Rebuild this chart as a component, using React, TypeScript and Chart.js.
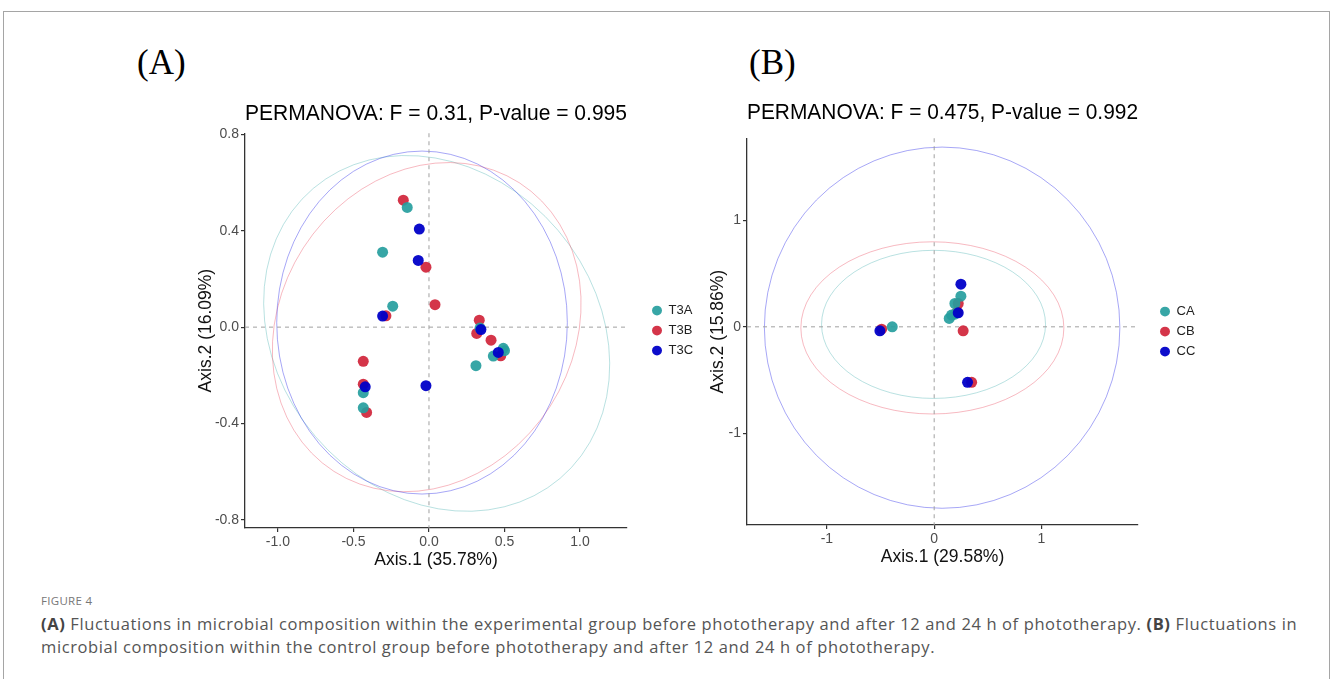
import React, { useEffect, useRef } from 'react';
import { Chart, registerables } from 'chart.js';

Chart.register(...registerables);

// ---------- Panel A data ----------
const T3A_X = [-0.144, -0.307, -0.24, 0.338, 0.492, 0.5, 0.426, 0.311, -0.435, -0.435];
const T3A_Y = [0.497, 0.311, 0.087, -0.004, -0.088, -0.098, -0.12, -0.16, -0.272, -0.335];
const T3B_X = [-0.17, -0.02, 0.04, -0.285, 0.333, 0.316, 0.411, 0.475, -0.435, -0.435, -0.413];
const T3B_Y = [0.527, 0.249, 0.093, 0.047, 0.029, -0.026, -0.054, -0.119, -0.142, -0.237, -0.354];
const T3C_X = [-0.064, -0.071, -0.307, 0.344, 0.459, -0.02, -0.422];
const T3C_Y = [0.407, 0.277, 0.046, -0.01, -0.105, -0.243, -0.248];

// ellipses: [centerX, centerY, axis1X, axis1Y, axis2X, axis2Y] in data units
const ELLIPSE_T3A = [0.051, -0.026, 0.817, -0.602, -0.803, -0.428];
const ELLIPSE_T3B = [-0.015, 0.0, 0.614, 0.599, 0.817, -0.329];
const ELLIPSE_T3C = [-0.046, 0.019, 0.962, 0.0, 0.0, 0.712];

const A_X_RANGE = [-1.218, 1.311];
const A_Y_RANGE = [-0.834, 0.805];
const A_X_STEP = 0.5;
const A_Y_STEP = 0.4;

// ---------- Panel B data ----------
const CA_X = [0.249, 0.193, 0.193, 0.162, 0.14, -0.391];
const CA_Y = [0.288, 0.219, 0.119, 0.11, 0.079, 0.0];
const CB_X = [0.224, 0.27, -0.49, 0.349, 0.215];
const CB_Y = [0.219, -0.037, -0.022, -0.521, 0.14];
const CC_X = [0.249, 0.224, -0.506, 0.311];
const CC_Y = [0.4, 0.131, -0.037, -0.521];

const ELLIPSE_CA = [-0.006, 0.023, 1.044, 0.0, 0.0, 0.695];
const ELLIPSE_CB = [-0.017, -0.01, 1.226, 0.0, 0.0, 0.808];
const ELLIPSE_CC = [0.074, -0.008, 1.657, 0.0, 0.0, 1.695];

const B_X_RANGE = [-1.745, 1.9];
const B_Y_RANGE = [-1.86, 1.77];
const B_X_STEP = 1;
const B_Y_STEP = 1;

// ---------- styles ----------
const TEAL = 'rgba(38,158,158,0.92)';
const RED = 'rgba(208,36,58,0.92)';
const BLUE = 'rgba(0,0,200,0.95)';
const TEAL_LINE = 'rgba(80,180,180,0.4)';
const RED_LINE = 'rgba(235,80,100,0.4)';
const BLUE_LINE = 'rgba(60,60,235,0.45)';
const SANS = '"Liberation Sans", Arial, sans-serif';

const refLinesPlugin = {
  id: 'refLines',
  beforeDatasetsDraw(chart: any) {
    const { ctx, chartArea: a, scales } = chart;
    const px = scales.x.getPixelForValue(0);
    const py = scales.y.getPixelForValue(0);
    ctx.save();
    ctx.strokeStyle = '#a0a0a0';
    ctx.lineWidth = 1;
    ctx.setLineDash([4, 4]);
    ctx.beginPath();
    ctx.moveTo(px, a.top);
    ctx.lineTo(px, a.bottom);
    ctx.moveTo(a.left, py);
    ctx.lineTo(a.right, py);
    ctx.stroke();
    ctx.restore();
  },
};

function makeEllipsePlugin(ellipses: { e: number[]; color: string }[]) {
  return {
    id: 'ellipses',
    beforeDatasetsDraw(chart: any) {
      const { ctx, scales } = chart;
      const X = (v: number) => scales.x.getPixelForValue(v);
      const Y = (v: number) => scales.y.getPixelForValue(v);
      ellipses.forEach(({ e, color }) => {
        const [cx, cy, ux, uy, vx, vy] = e;
        const x0 = X(cx), y0 = Y(cy);
        const a = X(cx + ux) - x0, b = Y(cy + uy) - y0;
        const c = X(cx + vx) - x0, d = Y(cy + vy) - y0;
        ctx.save();
        ctx.beginPath();
        ctx.transform(a, b, c, d, x0, y0);
        ctx.arc(0, 0, 1, 0, Math.PI * 2);
        ctx.restore();
        ctx.save();
        ctx.strokeStyle = color;
        ctx.lineWidth = 1;
        ctx.stroke();
        ctx.restore();
      });
    },
  };
}

type Group = { name: string; xs: number[]; ys: number[]; color: string; order: number };

type PanelCfg = {
  title: string;
  titlePad: { top: number; bottom: number };
  groups: Group[];
  ellipses: { e: number[]; color: string }[];
  xRange: number[];
  yRange: number[];
  xStep: number;
  yStep: number;
  xTitle: string;
  yTitle: string;
  yWidth: number;
  yTitlePad: number;
  gapRight: number;
  fmt: (v: number) => string;
};

function buildChart(canvas: HTMLCanvasElement, p: PanelCfg) {
  const axisCommon = {
    type: 'linear' as const,
    grid: { display: true, drawOnChartArea: false, drawTicks: true, tickLength: 4, color: '#333', lineWidth: 1.2 },
    border: { display: true, color: '#333', width: 1.3 },
  };
  return new Chart(canvas, {
    type: 'scatter',
    data: {
      datasets: p.groups.map((g) => ({
        label: g.name,
        data: g.xs.map((x, i) => ({ x, y: g.ys[i] })),
        backgroundColor: g.color,
        borderColor: g.color,
        borderWidth: 0,
        pointRadius: 5.5,
        pointHoverRadius: 5.5,
        order: g.order,
        xAxisID: 'x',
        yAxisID: 'y',
      })),
    },
    options: {
      animation: false,
      responsive: false,
      maintainAspectRatio: false,
      events: [],
      layout: { padding: 0 },
      plugins: {
        title: {
          display: true,
          text: p.title,
          fullSize: false,
          color: '#000',
          font: { family: SANS, size: 21.2, weight: 'normal' },
          padding: p.titlePad,
        },
        legend: {
          display: true,
          position: 'right',
          fullSize: false,
          maxWidth: 50,
          labels: {
            usePointStyle: true,
            pointStyle: 'circle',
            boxWidth: 10,
            boxHeight: 7,
            padding: 7,
            color: '#222',
            font: { family: SANS, size: 13 },
            sort: (a: any, b: any) => a.datasetIndex - b.datasetIndex,
          },
        },
        tooltip: { enabled: false },
      },
      scales: {
        x: {
          ...axisCommon,
          position: 'bottom',
          min: p.xRange[0],
          max: p.xRange[1],
          afterFit: (s: any) => {
            s.height = 50;
          },
          ticks: {
            stepSize: p.xStep,
            includeBounds: false,
            padding: 2,
            maxRotation: 0,
            autoSkip: false,
            color: '#4d4d4d',
            font: { family: SANS, size: 14 },
            callback: (v: any) => p.fmt(Number(v)),
          },
          title: {
            display: true,
            text: p.xTitle,
            color: '#111',
            font: { family: SANS, size: 17.5 },
            padding: { top: 0, bottom: 7.5 },
          },
        },
        y: {
          ...axisCommon,
          position: 'left',
          min: p.yRange[0],
          max: p.yRange[1],
          afterFit: (s: any) => {
            s.width = p.yWidth;
          },
          ticks: {
            stepSize: p.yStep,
            includeBounds: false,
            padding: 2,
            autoSkip: false,
            color: '#4d4d4d',
            font: { family: SANS, size: 14 },
            callback: (v: any) => p.fmt(Number(v)),
          },
          title: {
            display: true,
            text: p.yTitle,
            color: '#111',
            font: { family: SANS, size: 17.5 },
            padding: { top: p.yTitlePad, bottom: 0 },
          },
        },
        gap: {
          type: 'linear',
          position: 'right',
          display: true,
          grid: { display: false },
          border: { display: false },
          ticks: { display: false },
          title: { display: false },
          afterFit: (s: any) => {
            s.width = p.gapRight;
          },
        },
      },
    } as any,
    plugins: [makeEllipsePlugin(p.ellipses), refLinesPlugin],
  });
}

const fmt1 = (v: number) => (Math.abs(v) < 1e-9 ? '0.0' : v.toFixed(1));
const fmt0 = (v: number) => (Math.abs(v) < 1e-9 ? '0' : String(Math.round(v)));

const PANEL_A: PanelCfg = {
  title: 'PERMANOVA: F = 0.31, P-value = 0.995',
  titlePad: { top: 11.4, bottom: 6.4 },
  groups: [
    { name: 'T3A', xs: T3A_X, ys: T3A_Y, color: TEAL, order: 1 },
    { name: 'T3B', xs: T3B_X, ys: T3B_Y, color: RED, order: 2 },
    { name: 'T3C', xs: T3C_X, ys: T3C_Y, color: BLUE, order: 0 },
  ],
  ellipses: [
    { e: ELLIPSE_T3A, color: TEAL_LINE },
    { e: ELLIPSE_T3B, color: RED_LINE },
    { e: ELLIPSE_T3C, color: BLUE_LINE },
  ],
  xRange: A_X_RANGE,
  yRange: A_Y_RANGE,
  xStep: A_X_STEP,
  yStep: A_Y_STEP,
  xTitle: 'Axis.1 (35.78%)',
  yTitle: 'Axis.2 (16.09%)',
  yWidth: 65,
  yTitlePad: 15.5,
  gapRight: 18,
  fmt: fmt1,
};

const PANEL_B: PanelCfg = {
  title: 'PERMANOVA: F = 0.475, P-value = 0.992',
  titlePad: { top: 14, bottom: 12.8 },
  groups: [
    { name: 'CA', xs: CA_X, ys: CA_Y, color: TEAL, order: 1 },
    { name: 'CB', xs: CB_X, ys: CB_Y, color: RED, order: 2 },
    { name: 'CC', xs: CC_X, ys: CC_Y, color: BLUE, order: 0 },
  ],
  ellipses: [
    { e: ELLIPSE_CA, color: TEAL_LINE },
    { e: ELLIPSE_CB, color: RED_LINE },
    { e: ELLIPSE_CC, color: BLUE_LINE },
  ],
  xRange: B_X_RANGE,
  yRange: B_Y_RANGE,
  xStep: B_X_STEP,
  yStep: B_Y_STEP,
  xTitle: 'Axis.1 (29.58%)',
  yTitle: 'Axis.2 (15.86%)',
  yWidth: 47,
  yTitlePad: 7.5,
  gapRight: 15,
  fmt: fmt0,
};

function Panel({ cfg, left, top, width, height }: { cfg: PanelCfg; left: number; top: number; width: number; height: number }) {
  const ref = useRef<HTMLCanvasElement>(null);
  useEffect(() => {
    if (!ref.current) return;
    const chart = buildChart(ref.current, cfg);
    return () => chart.destroy();
  }, [cfg]);
  return (
    <canvas
      ref={ref}
      width={width}
      height={height}
      style={{ position: 'absolute', left, top, width, height, display: 'block' }}
    />
  );
}

export default function App() {
  return (
    <div
      style={{
        position: 'absolute',
        left: 0,
        top: 0,
        width: 1333,
        height: 679,
        overflow: 'hidden',
        background: '#fff',
      }}
    >
      <div
        style={{
          position: 'absolute',
          left: 3,
          top: 11,
          width: 1325,
          height: 720,
          border: '1px solid #a5a5a5',
        }}
      />
      <div
        style={{
          position: 'absolute',
          left: 137,
          top: 42,
          fontFamily: '"Liberation Serif", "DejaVu Serif", serif',
          fontSize: 35,
          lineHeight: '42px',
          color: '#000',
        }}
      >
        (A)
      </div>
      <div
        style={{
          position: 'absolute',
          left: 749,
          top: 42,
          fontFamily: '"Liberation Serif", "DejaVu Serif", serif',
          fontSize: 35,
          lineHeight: '42px',
          color: '#000',
        }}
      >
        (B)
      </div>
      <Panel cfg={PANEL_A} left={180} top={90} width={515} height={488} />
      <Panel cfg={PANEL_B} left={700} top={86} width={503} height={489} />
      <div
        style={{
          position: 'absolute',
          left: 41,
          top: 594,
          fontFamily: '"Open Sans", "Noto Sans", sans-serif',
          fontSize: 11.5,
          lineHeight: '14px',
          letterSpacing: '0.3px',
          color: '#777',
        }}
      >
        FIGURE 4
      </div>
      <div
        style={{
          position: 'absolute',
          left: 41,
          top: 612,
          fontFamily: '"Open Sans", "Noto Sans", sans-serif',
          fontSize: 16.5,
          lineHeight: '23px',
          letterSpacing: '0.62px',
          color: '#555',
          whiteSpace: 'nowrap',
        }}
      >
        <b style={{ color: '#444' }}>(A)</b> Fluctuations in microbial composition within the experimental group before
        phototherapy and after 12 and 24 h of phototherapy. <b style={{ color: '#444' }}>(B)</b> Fluctuations in
        <br />
        microbial composition within the control group before phototherapy and after 12 and 24 h of phototherapy.
      </div>
    </div>
  );
}
